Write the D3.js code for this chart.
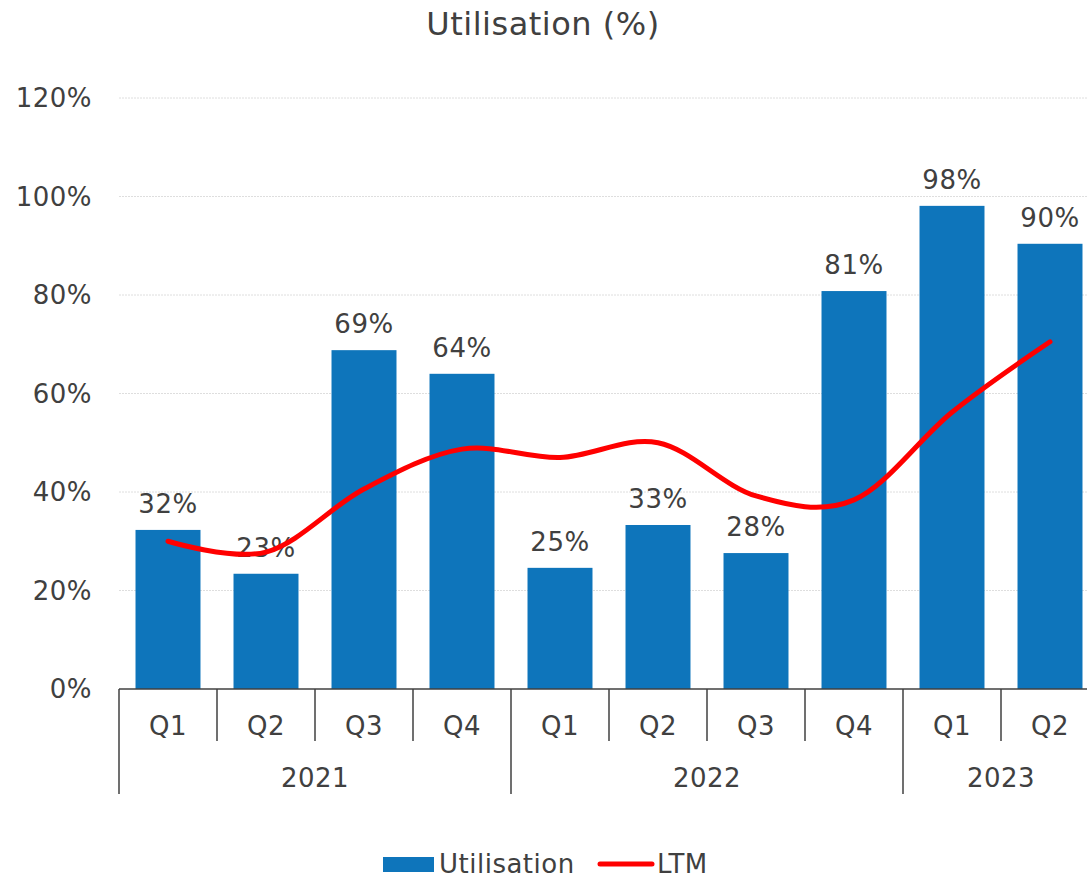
<!DOCTYPE html>
<html>
  <head>
    <meta charset="utf-8">
    <title>Utilisation chart</title>
    <script src="https://cdn.jsdelivr.net/npm/d3@7"></script>
    <style>
      body { margin: 0; background: #fff; }
      text { font-family: "DejaVu Sans", Verdana, sans-serif; fill: #404040; letter-spacing: 0.5px; }
    </style>
  </head>
  <body>
    <svg id="chart" width="1087" height="878"></svg>

    <script>
      // data
      const quarters = ["Q1", "Q2", "Q3", "Q4", "Q1", "Q2", "Q3", "Q4", "Q1", "Q2"];
      const years = ["2021", "2021", "2021", "2021", "2022", "2022", "2022", "2022", "2023", "2023"];
      const utilisation = [32.3, 23.4, 68.8, 64.0, 24.6, 33.3, 27.6, 80.8, 98.1, 90.4];
      const ltm = [30.0, 27.8, 40.6, 48.7, 47.0, 50.0, 39.2, 38.4, 56.2, 70.5];
      const yTicks = [0, 20, 40, 60, 80, 100, 120];

      const width = 1087, height = 878;
      // the plot runs past the right edge of the picture, as in the original
      const margin = {top: 98, bottom: 189, left: 119, right: -12};
      const blue = "#0E75BB", red = "#FF0000";
      const fontSize = "26px";

      const chart = d3.select("#chart");
      const keys = quarters.map((q, i) => i);

      const x = d3.scaleBand()
          .domain(keys)
          .range([margin.left, width - margin.right])
          .paddingInner(0.337)
          .paddingOuter(0.1685);

      const y = d3.scaleLinear()
          .domain([0, 120])
          .range([height - margin.bottom, margin.top]);

      // title
      chart.append("text")
          .attr("x", 543)
          .attr("y", 35)
          .attr("text-anchor", "middle")
          .style("font-size", "32px")
          .text("Utilisation (%)");

      // gridlines
      chart.append("g")
          .selectAll("line")
          .data(yTicks.slice(1))
          .join("line")
            .attr("x1", margin.left)
            .attr("x2", width - margin.right)
            .attr("y1", d => y(d))
            .attr("y2", d => y(d))
            .attr("stroke", "#dedede")
            .attr("stroke-dasharray", "2,1");

      // y labels
      chart.append("g")
          .selectAll("text")
          .data(yTicks)
          .join("text")
            .attr("x", 92)
            .attr("y", d => y(d))
            .attr("dy", "0.35em")
            .attr("text-anchor", "end")
            .style("font-size", fontSize)
            .text(d => d + "%");

      // bars
      chart.append("g")
          .selectAll("rect")
          .data(utilisation)
          .join("rect")
            .attr("x", (d, i) => x(i))
            .attr("y", d => y(d))
            .attr("width", x.bandwidth())
            .attr("height", d => y(0) - y(d))
            .attr("fill", blue);

      // bar labels
      chart.append("g")
          .selectAll("text")
          .data(utilisation)
          .join("text")
            .attr("x", (d, i) => x(i) + x.bandwidth() / 2)
            .attr("y", d => y(d) - 17)
            .attr("text-anchor", "middle")
            .style("font-size", fontSize)
            .text(d => Math.round(d) + "%");

      // LTM line
      const step = x.step();
      const line = d3.line()
          .x((d, i) => x(i) + x.bandwidth() / 2)
          .y(d => y(d))
          .curve(d3.curveCardinal.tension(0));

      chart.append("path")
          .attr("d", line(ltm))
          .attr("fill", "none")
          .attr("stroke", red)
          .attr("stroke-width", 5)
          .attr("stroke-linecap", "round");

      // x axis
      const axisY = y(0);
      const left = margin.left, right = width - margin.right;
      const axis = chart.append("g").attr("stroke", "#404040").attr("stroke-width", 1.5);
      axis.append("line")
          .attr("x1", left).attr("x2", right)
          .attr("y1", axisY).attr("y2", axisY);

      // boundaries between categories
      const bounds = d3.range(quarters.length + 1).map(i => left + i * step);
      axis.selectAll(".tick")
          .data(bounds)
          .join("line")
            .attr("x1", d => d).attr("x2", d => d)
            .attr("y1", axisY)
            .attr("y2", (d, i) => {
              if (i === 0 || i === quarters.length) return axisY + 105;
              return years[i] !== years[i - 1] ? axisY + 105 : axisY + 52;
            });

      chart.append("g")
          .selectAll("text")
          .data(quarters)
          .join("text")
            .attr("x", (d, i) => left + (i + 0.5) * step)
            .attr("y", axisY + 46)
            .attr("text-anchor", "middle")
            .style("font-size", fontSize)
            .text(d => d);

      const yearGroups = d3.groups(keys, i => years[i]);
      chart.append("g")
          .selectAll("text")
          .data(yearGroups)
          .join("text")
            .attr("x", d => left + (d3.min(d[1]) + (d3.max(d[1]) + 1)) / 2 * step)
            .attr("y", axisY + 98)
            .attr("text-anchor", "middle")
            .style("font-size", fontSize)
            .text(d => d[0]);

      // legend
      const legend = chart.append("g");
      legend.append("rect")
          .attr("x", 383).attr("y", 857)
          .attr("width", 51).attr("height", 15)
          .attr("fill", blue);
      legend.append("text")
          .attr("x", 439).attr("y", 873)
          .style("font-size", fontSize)
          .text("Utilisation");
      legend.append("line")
          .attr("x1", 600).attr("x2", 652)
          .attr("y1", 864).attr("y2", 864)
          .attr("stroke", red)
          .attr("stroke-width", 5)
          .attr("stroke-linecap", "round");
      legend.append("text")
          .attr("x", 657).attr("y", 873)
          .style("font-size", fontSize)
          .text("LTM");
    </script>
  </body>
</html>
